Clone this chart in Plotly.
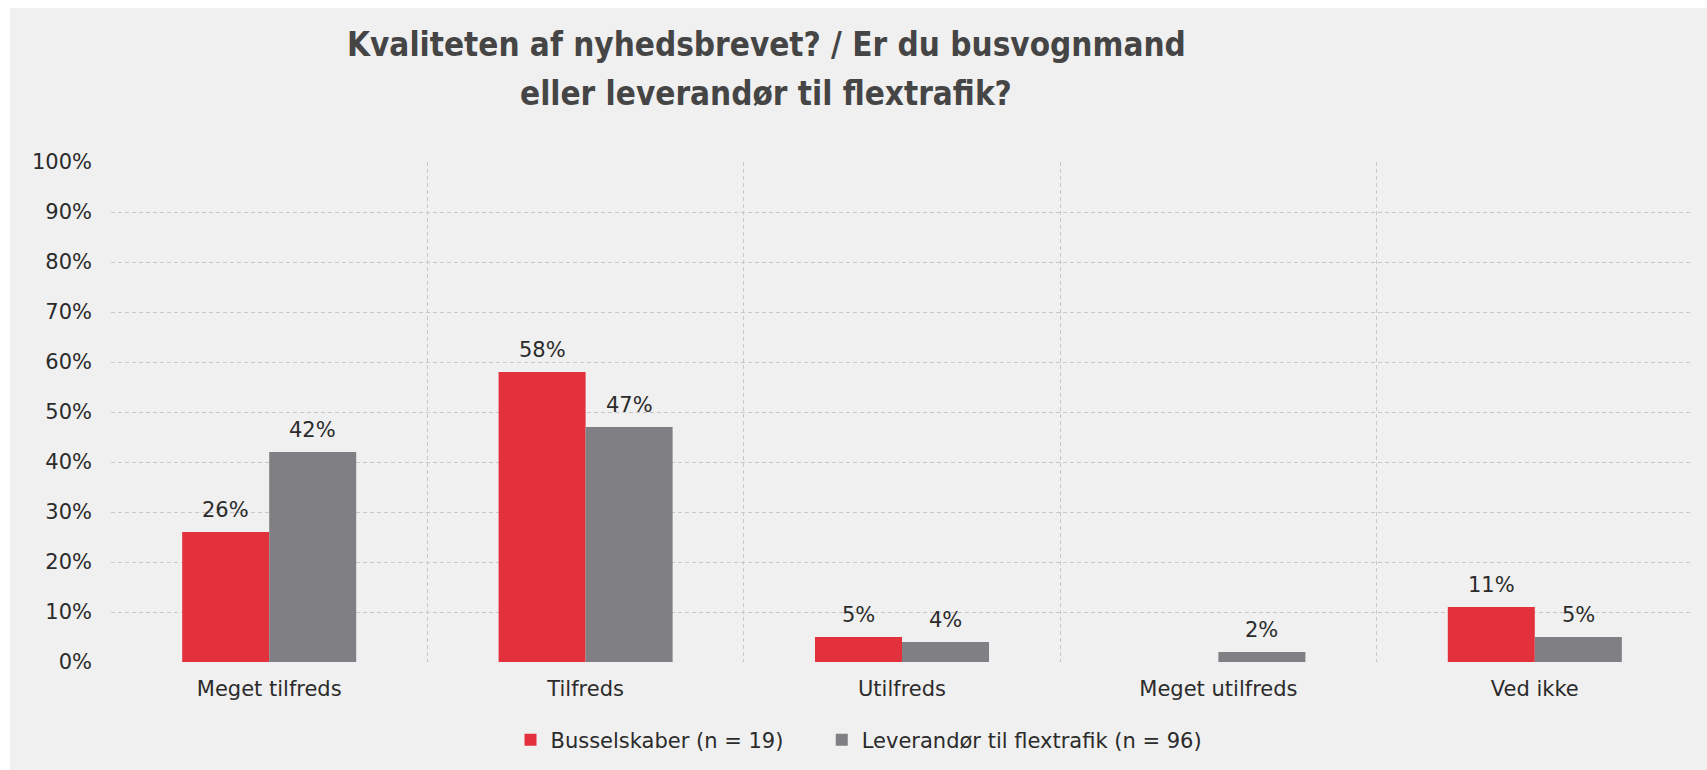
import plotly.graph_objects as go

categories = ["Meget tilfreds", "Tilfreds", "Utilfreds", "Meget utilfreds", "Ved ikke"]
series_names = ["Busselskaber (n = 19)", "Leverandør til flextrafik (n = 96)"]
bus_values = [26, 58, 5, None, 11]
flex_values = [42, 47, 4, 2, 5]
y_ticks = [0, 10, 20, 30, 40, 50, 60, 70, 80, 90, 100]
title_lines = ["Kvaliteten af nyhedsbrevet? / Er du busvognmand", "eller leverandør til flextrafik?"]

colors = ["#E2303D", "#808084"]
W, H = 1707, 770
ML, MR, MT, MB = 111, 14, 162, 108
PW, PH = W - ML - MR, H - MT - MB
BARGAP = 0.45
TXT = "#2b2b2b"
FONT = "DejaVu Sans, Verdana, sans-serif"
FS = 21
PAD = "\u00a0" * 5

fig = go.Figure()
for k, (name, vals, col) in enumerate(zip(series_names, [bus_values, flex_values], colors)):
    label = name + (PAD if k == 0 else "")
    fig.add_trace(go.Bar(x=categories, y=vals, name=label, marker=dict(color=col, line=dict(width=0))))

# value labels
half = (1 - BARGAP) / 4
for k, vals in enumerate([bus_values, flex_values]):
    off = -half if k == 0 else half
    for i, v in enumerate(vals):
        if v is None:
            continue
        fig.add_annotation(x=i + off, y=v, xref="x", yref="y", text=f"{v}%", showarrow=False,
                           yanchor="bottom", yshift=8, font=dict(family=FONT, size=FS, color=TXT))

# title lines
for j, line in enumerate(title_lines):
    ypx = 44 + 49 * j
    fig.add_annotation(x=(766 - ML) / PW, y=(MT + PH - ypx) / PH, xref="paper", yref="paper",
                       text=f"<b>{line}</b>", showarrow=False, xanchor="center", yanchor="middle",
                       font=dict(family="DejaVu Sans Condensed, Liberation Sans Narrow, sans-serif",
                                 size=33, color="#454545"))

# grey panel
fig.add_shape(type="rect", xref="paper", yref="paper",
              x0=(10 - ML) / PW, x1=(W + 5 - ML) / PW,
              y0=(MT + PH - H - 5) / PH, y1=(MT + PH - 8) / PH,
              fillcolor="#F0F0F0", line=dict(width=0), layer="below")

fig.update_layout(
    width=W, height=H,
    margin=dict(l=ML, r=MR, t=MT, b=MB, autoexpand=False),
    paper_bgcolor="white", plot_bgcolor="rgba(0,0,0,0)",
    barmode="group", bargap=BARGAP, bargroupgap=0,
    font=dict(family=FONT, size=FS, color=TXT),
    showlegend=True,
    legend=dict(orientation="h", x=(859 - ML) / PW, xanchor="center",
                y=(MT + PH - 740) / PH, yanchor="middle",
                bgcolor="rgba(0,0,0,0)", font=dict(family=FONT, size=FS, color=TXT),
                traceorder="normal"),
    xaxis=dict(type="category", tickson="boundaries", showgrid=True, gridcolor="#C8C8C8",
               griddash="4px,3px", gridwidth=1, showline=False, zeroline=False,
               ticks="", ticklabelstandoff=12,
               tickfont=dict(family=FONT, size=FS, color=TXT)),
    yaxis=dict(range=[0, 100], tickvals=y_ticks, ticktext=[f"{t}%" for t in y_ticks],
               showgrid=True, gridcolor="#C8C8C8", griddash="4px,3px", gridwidth=1,
               zeroline=False, showline=False, ticks="", ticklabelstandoff=18,
               tickfont=dict(family=FONT, size=FS, color=TXT)),
)

fig.write_html("out.html", config={"displayModeBar": False},
               post_script="document.body.style.margin='0';document.body.style.overflow='hidden';")
